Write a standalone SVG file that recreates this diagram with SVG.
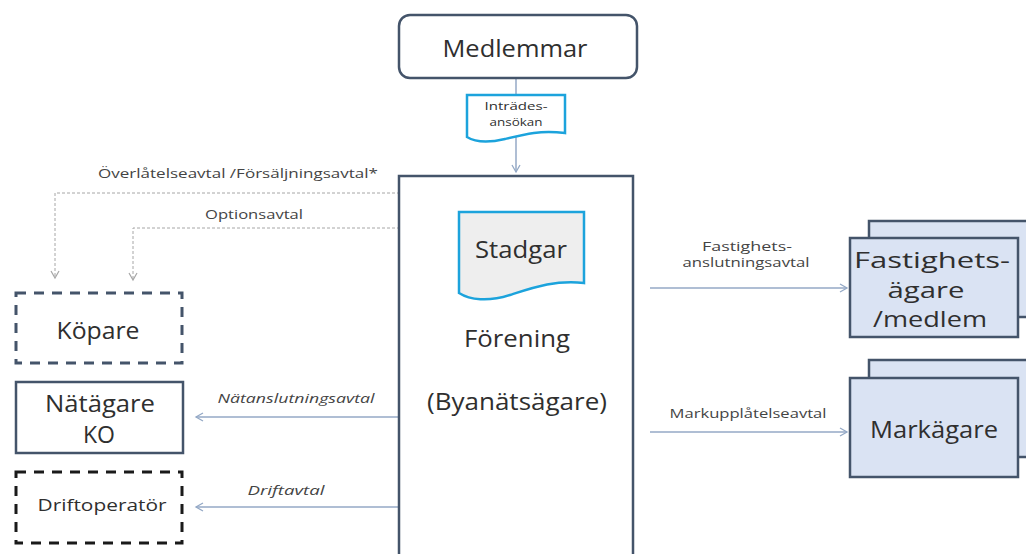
<svg xmlns="http://www.w3.org/2000/svg" width="1026" height="554" viewBox="0 0 1026 554">
<style>
text{font-family:"Open Sans","Noto Sans",sans-serif;fill:#2f2f2f;text-anchor:middle;dominant-baseline:central}
.big{font-size:24px}
.mid{font-size:22px}
.lbl{font-size:12.5px;fill:#444444}
.it{font-style:italic}
.conn{stroke:#94a9c6;stroke-width:1.5;fill:none}
.dconn{stroke:#a6a6a6;stroke-width:1;stroke-dasharray:3 2;fill:none}
.node{fill:#ffffff;stroke:#44546a;stroke-width:2.5}
.blue{fill:#dae3f3;stroke:#44546a;stroke-width:2.5}
.doc{stroke:#1ca3dc;stroke-width:2.5}
</style>
<defs>
<marker id="arr" markerWidth="10" markerHeight="10" refX="8" refY="5" orient="auto" markerUnits="userSpaceOnUse">
<polyline points="1,1 8,5 1,9" fill="none" stroke="#94a9c6" stroke-width="1.3"/>
</marker>
<marker id="darr" markerWidth="10" markerHeight="10" refX="8" refY="5" orient="auto" markerUnits="userSpaceOnUse">
<polyline points="1,1 8,5 1,9" fill="none" stroke="#a6a6a6" stroke-width="1.2"/>
</marker>
</defs>
<rect width="1026" height="554" fill="#ffffff"/>

<g id="connectors">
<line class="conn" x1="516" y1="78" x2="516" y2="172" marker-end="url(#arr)"/>
<polyline class="dconn" points="400,193 55,193 55,278" marker-end="url(#darr)"/>
<polyline class="dconn" points="400,228 133,228 133,280" marker-end="url(#darr)"/>
<line class="conn" x1="398" y1="417" x2="196" y2="417" marker-end="url(#arr)"/>
<line class="conn" x1="398" y1="507" x2="196" y2="507" marker-end="url(#arr)"/>
<line class="conn" x1="650" y1="288" x2="847" y2="288" marker-end="url(#arr)"/>
<line class="conn" x1="650" y1="432" x2="847" y2="432" marker-end="url(#arr)"/>
<text class="lbl" x="238" y="173" textLength="280" lengthAdjust="spacingAndGlyphs">Överlåtelseavtal /Försäljningsavtal*</text>
<text class="lbl" x="254" y="214" textLength="98" lengthAdjust="spacingAndGlyphs">Optionsavtal</text>
<text class="lbl it" x="296" y="398" textLength="157" lengthAdjust="spacingAndGlyphs">Nätanslutningsavtal</text>
<text class="lbl it" x="286" y="490" textLength="77" lengthAdjust="spacingAndGlyphs">Driftavtal</text>
<text class="lbl" x="747" y="246" textLength="90" lengthAdjust="spacingAndGlyphs">Fastighets-</text>
<text class="lbl" x="746" y="262" textLength="127" lengthAdjust="spacingAndGlyphs">anslutningsavtal</text>
<text class="lbl" x="748" y="413" textLength="157" lengthAdjust="spacingAndGlyphs">Markupplåtelseavtal</text>
</g>

<g id="medlemmar">
<rect class="node" x="399" y="15" width="238" height="63" rx="11"/>
<text class="big" x="515" y="47" textLength="145" lengthAdjust="spacingAndGlyphs">Medlemmar</text>
</g>

<g id="intradesansokan">
<path class="doc" fill="#ffffff" d="M467,95 H565 V133 C540,130 525,134 505,139 C488,143 475,142 467,137 Z"/>
<text x="516" y="105" font-size="11" textLength="63" lengthAdjust="spacingAndGlyphs">Inträdes-</text>
<text x="516" y="121" font-size="11" textLength="53" lengthAdjust="spacingAndGlyphs">ansökan</text>
</g>

<g id="forening">
<rect class="node" x="399" y="176" width="234" height="390"/>
<path class="doc" fill="#eeeeee" d="M459,212 H584 V283 C555,280 535,287 510,295 C488,302 470,300 459,293 Z"/>
<text class="big" x="521" y="248" textLength="92" lengthAdjust="spacingAndGlyphs">Stadgar</text>
<text class="big" x="517" y="337" textLength="106" lengthAdjust="spacingAndGlyphs">Förening</text>
<text class="big" x="517" y="400" textLength="180" lengthAdjust="spacingAndGlyphs">(Byanätsägare)</text>
</g>

<g id="kopare">
<rect x="16" y="293" width="166" height="70" fill="#ffffff" stroke="#44546a" stroke-width="3" stroke-dasharray="10 8"/>
<text class="big" x="98" y="329" textLength="83" lengthAdjust="spacingAndGlyphs">Köpare</text>
</g>

<g id="natagare">
<rect class="node" x="16" y="382" width="167" height="71"/>
<text class="big" x="100" y="402" textLength="110" lengthAdjust="spacingAndGlyphs">Nätägare</text>
<text class="big" x="99" y="433" textLength="32" lengthAdjust="spacingAndGlyphs">KO</text>
</g>

<g id="driftoperator">
<rect x="16" y="472" width="166" height="71" fill="#ffffff" stroke="#1a1a1a" stroke-width="3" stroke-dasharray="10 8"/>
<text x="102" y="504" font-size="17" textLength="129" lengthAdjust="spacingAndGlyphs">Driftoperatör</text>
</g>

<g id="fastighetsagare">
<rect class="blue" x="869" y="221" width="170" height="96"/>
<rect class="blue" x="850" y="238" width="168" height="99"/>
<text class="mid" x="932" y="259" textLength="156" lengthAdjust="spacingAndGlyphs">Fastighets-</text>
<text class="mid" x="926" y="289" textLength="77" lengthAdjust="spacingAndGlyphs">ägare</text>
<text class="mid" x="930" y="318" textLength="114" lengthAdjust="spacingAndGlyphs">/medlem</text>
</g>

<g id="markagare">
<rect class="blue" x="869" y="360" width="170" height="97"/>
<rect class="blue" x="850" y="378" width="168" height="99"/>
<text class="big" x="934" y="428" textLength="128" lengthAdjust="spacingAndGlyphs">Markägare</text>
</g>
</svg>
